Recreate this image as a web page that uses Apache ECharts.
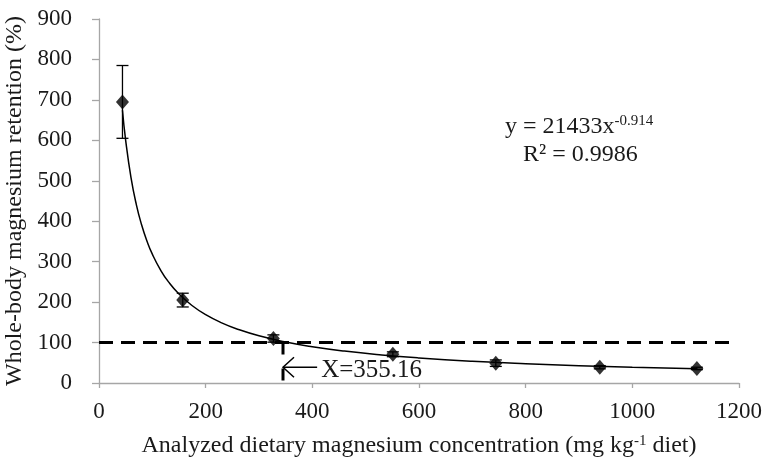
<!DOCTYPE html>
<html>
<head>
<meta charset="utf-8">
<style>
  html, body { margin: 0; padding: 0; background: #ffffff; }
  #chart { width: 763px; height: 457px; }
</style>
<script src="https://cdn.jsdelivr.net/npm/echarts@6/dist/echarts.min.js"></script>
</head>
<body>
<div id="chart"></div>
<script>
// measured points (x = analysed Mg, mg/kg; y = retention %)
const doseX = [44, 157, 327, 551, 744, 939, 1121];
const retention = [695, 205, 110, 71, 49, 39, 36];
const retentionSE = [90, 17, 9, 6, 8, 4, 3];

// power trendline as printed on the chart: y = a * x^b
const fitA = 21433;
const fitB = -0.914;
const fitR2 = '0.9986';
const trendX = [44, 50, 60, 70, 80, 90, 100, 115, 130, 150, 175, 200, 230, 260, 300, 350,
  400, 460, 530, 600, 700, 800, 900, 1000, 1121];

// 100 % retention cut-off and the break point
const cutY = 100;
const cutLineX = [0, 1183];
const breakX = 345;
const breakLabel = 'X=355.16';
const arrowY = 39;
const arrowEndX = 409;

const xTicks = { min: 0, max: 1200, interval: 200 };
const yTicks = { min: 0, max: 900, interval: 100 };

const serif = 'Liberation Serif';
const ink = '#1a1a1a';
const chart = echarts.init(document.getElementById('chart'));

const trendData = trendX.map(x => [x, fitA * Math.pow(x, fitB)]);
const pointData = doseX.map((x, i) => [x, retention[i]]);
const errData = doseX.map((x, i) => [x, retention[i] - retentionSE[i], retention[i] + retentionSE[i]]);

const option = {
  animation: false,
  grid: { left: 99, right: 24, top: 19, bottom: 74, containLabel: false, outerBoundsMode: 'none' },
  xAxis: {
    type: 'value',
    min: xTicks.min, max: xTicks.max, interval: xTicks.interval,
    name: '{t|Analyzed dietary magnesium concentration (mg kg}{s|-1}{t| diet)}',
    nameLocation: 'middle',
    nameGap: 51,
    nameTextStyle: {
      rich: {
        t: { fontFamily: serif, fontSize: 24, color: ink },
        s: { fontFamily: serif, fontSize: 15, color: ink, verticalAlign: 'top', padding: [0, 0, 9, 0] }
      }
    },
    axisLine: { lineStyle: { color: '#a6a6a6', width: 1.3 } },
    axisTick: { show: true, length: 5, lineStyle: { color: '#a6a6a6', width: 1.3 } },
    axisLabel: { fontFamily: serif, fontSize: 23, color: ink, margin: 17, formatter: v => String(v) },
    splitLine: { show: false }
  },
  yAxis: {
    type: 'value',
    min: yTicks.min, max: yTicks.max, interval: yTicks.interval,
    name: 'Whole-body magnesium retention (%)',
    nameLocation: 'middle',
    nameGap: 66,
    nameTextStyle: { fontFamily: serif, fontSize: 24, color: ink },
    axisLine: { show: true, lineStyle: { color: '#a6a6a6', width: 1.3 } },
    axisTick: { show: true, length: 7, lineStyle: { color: '#a6a6a6', width: 1.3 } },
    axisLabel: { fontFamily: serif, fontSize: 23, color: ink, margin: 27 },
    splitLine: { show: false }
  },
  series: [
    {
      type: 'line',
      data: [[cutLineX[0], cutY], [cutLineX[1], cutY]],
      symbol: 'none',
      lineStyle: { color: '#000', width: 3, type: [14, 8] },
      z: 1
    },
    {
      type: 'line',
      data: [[breakX, cutY], [breakX, 0]],
      symbol: 'none',
      lineStyle: { color: '#000', width: 3, type: [12, 14] },
      z: 1
    },
    {
      type: 'line',
      data: trendData,
      smooth: true,
      symbol: 'none',
      lineStyle: { color: '#000', width: 1.5 },
      z: 2
    },
    {
      type: 'custom',
      data: errData,
      renderItem: function (params, api) {
        const x = api.value(0);
        const lo = api.coord([x, api.value(1)]);
        const hi = api.coord([x, api.value(2)]);
        const cap = 6;
        const st = { stroke: '#000', lineWidth: 1.3 };
        return {
          type: 'group',
          children: [
            { type: 'line', shape: { x1: lo[0], y1: lo[1], x2: hi[0], y2: hi[1] }, style: st },
            { type: 'line', shape: { x1: hi[0] - cap, y1: hi[1], x2: hi[0] + cap, y2: hi[1] }, style: st },
            { type: 'line', shape: { x1: lo[0] - cap, y1: lo[1], x2: lo[0] + cap, y2: lo[1] }, style: st }
          ]
        };
      },
      z: 3
    },
    {
      type: 'scatter',
      data: pointData,
      symbol: 'diamond',
      symbolSize: [13, 15],
      itemStyle: { color: '#000' },
      z: 4
    },
    {
      type: 'custom',
      data: [[breakX, arrowY, arrowEndX]],
      renderItem: function (params, api) {
        const tip = api.coord([api.value(0), api.value(1)]);
        const end = api.coord([api.value(2), api.value(1)]);
        const st = { stroke: '#000', lineWidth: 1.5, fill: null };
        return {
          type: 'group',
          children: [
            { type: 'line', shape: { x1: tip[0], y1: tip[1], x2: end[0], y2: end[1] }, style: st },
            { type: 'polyline', shape: { points: [[tip[0] + 11, tip[1] - 10], [tip[0], tip[1]], [tip[0] + 11, tip[1] + 10]] }, style: st },
            {
              type: 'text',
              style: {
                x: end[0] + 4, y: end[1] + 3, text: breakLabel,
                fontFamily: serif, fontSize: 25, fill: ink, verticalAlign: 'middle'
              }
            }
          ]
        };
      },
      z: 5
    }
  ],
  graphic: [
    {
      type: 'text',
      left: 505,
      top: 114,
      style: {
        text: '{t|y = ' + fitA + 'x}{s|' + fitB + '}',
        rich: {
          t: { fontFamily: serif, fontSize: 24, fill: ink },
          s: { fontFamily: serif, fontSize: 15, fill: ink, verticalAlign: 'top', padding: [0, 0, 11, 0] }
        }
      }
    },
    {
      type: 'text',
      left: 523,
      top: 143,
      style: { text: 'R² = ' + fitR2, fontFamily: serif, fontSize: 24, fill: ink }
    }
  ]
};

chart.setOption(option);
</script>
</body>
</html>
